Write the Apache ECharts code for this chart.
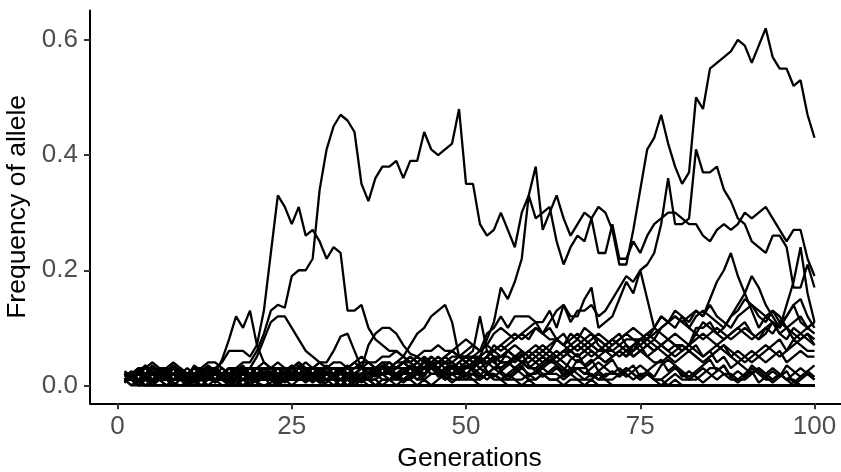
<!DOCTYPE html>
<html>
<head>
<meta charset="utf-8">
<script src="https://cdn.jsdelivr.net/npm/echarts@6/dist/echarts.min.js"></script>
<style>
  html, body { margin: 0; padding: 0; background: #fff; overflow: hidden; }
  /* the plot panel runs a little past the right edge of the window, as in the original */
  #chart { width: 849px; height: 472px; }
</style>
</head>
<body>
<div id="chart"></div>
<script>
// allele frequency in percent, one value per generation (1..100)
const alleleA = [
  1, 2, 1, 1, 2, 1, 2, 2, 1, 2,
  2, 1, 2, 3, 4, 6, 6, 6, 5, 7,
  13, 23, 33, 31, 28, 31, 26, 27, 25, 22,
  24, 23, 13, 13, 14, 10, 8, 7, 6, 6,
  5, 4, 3, 3, 2, 2, 3, 2, 1, 1,
  1, 0, 0, 0, 0, 0, 0, 0, 0, 0,
  0, 0, 0, 0, 0, 0, 0, 0, 0, 0,
  0, 0, 0, 0, 0, 0, 0, 0, 0, 0,
  0, 0, 0, 0, 0, 0, 0, 0, 0, 0,
  0, 0, 0, 0, 0, 0, 0, 0, 0, 0
]
const alleleB = [
  2, 1, 2, 3, 2, 3, 2, 1, 2, 1,
  1, 2, 2, 1, 2, 3, 3, 4, 4, 6,
  9, 13, 14, 13.5, 19, 20, 20, 22, 34, 41,
  45, 47, 46, 44, 35, 32, 36, 38, 38, 39,
  36, 39, 39, 44, 41, 40, 41, 42, 48, 35,
  35, 28, 26, 27, 30, 27, 24, 30, 33, 38,
  27, 30, 33, 29, 26, 28, 30, 29, 31, 30,
  27, 21, 21, 27, 34, 41, 43, 47, 42, 38,
  35, 37, 50, 48, 55, 56, 57, 58, 60, 59,
  56, 59, 62, 57, 55, 55, 52, 53, 47, 43
]
const alleleC = [
  1, 1, 2, 1, 0, 1, 1, 2, 1, 1,
  0, 1, 1, 2, 1, 1, 0, 1, 1, 2,
  1, 1, 2, 1, 1, 2, 3, 2, 1, 2,
  2, 3, 2, 1, 2, 2, 3, 4, 3, 3,
  4, 3, 2, 3, 4, 5, 4, 3, 4, 3,
  4, 5, 8, 11, 17, 15, 18, 22, 33, 29,
  30, 31, 25, 21, 24, 26, 25, 29, 23, 23,
  28, 22, 22, 25, 23, 26, 28, 29, 30, 30,
  29, 28, 28, 26, 25, 27, 28, 27, 28, 30,
  29, 30, 31, 29, 27, 25, 27, 27, 22, 19
]
const alleleE = [
  1, 2, 2, 3, 2, 1, 1, 2, 2, 1,
  1, 1, 0, 1, 1, 2, 1, 1, 2, 2,
  3, 2, 2, 1, 1, 1, 2, 2, 3, 2,
  2, 1, 1, 2, 2, 1, 2, 3, 2, 2,
  3, 3, 4, 3, 5, 4, 5, 6, 5, 6,
  7, 6, 9, 10, 12, 10, 12, 12, 12, 11,
  11, 13, 10, 14, 12, 12, 15, 17, 10, 11,
  12, 15, 18, 16, 20, 21, 23, 28, 36, 28,
  28, 29, 41, 37, 37, 38, 34, 32, 29, 28,
  25, 24, 23, 26, 26, 24, 17, 17, 21, 17
]
const alleleM = [
  2, 1, 1, 2, 1, 2, 3, 2, 3, 2,
  3, 2, 1, 2, 1, 0, 1, 1, 0, 1,
  1, 1, 0, 1, 1, 2, 1, 1, 2, 1,
  1, 2, 2, 1, 2, 1, 1, 0, 1, 1,
  2, 2, 1, 2, 3, 3, 4, 3, 3, 4,
  5, 4, 5, 7, 6, 7, 8, 9, 8, 10,
  9, 11, 13, 14, 11, 13, 13, 14, 12, 13,
  15, 17, 19, 18, 20, 15, 10, 9, 8, 7,
  7, 6, 7, 5, 6, 4, 5, 3, 4, 3,
  2, 3, 2, 1, 2, 1, 1, 0, 0, 0
]
const allele01 = [
  2, 2, 3, 3, 4, 3, 2, 3, 2, 2,
  1, 2, 3, 2, 2, 1, 1, 0, 1, 1,
  2, 1, 1, 2, 3, 3, 2, 1, 1, 0,
  0, 0, 0, 0, 0, 0, 0, 0, 0, 0,
  0, 0, 0, 0, 0, 0, 0, 0, 0, 0,
  0, 0, 0, 0, 0, 0, 0, 0, 0, 0,
  0, 0, 0, 0, 0, 0, 0, 0, 0, 0,
  0, 0, 0, 0, 0, 0, 0, 0, 0, 0,
  0, 0, 0, 0, 0, 0, 0, 0, 0, 0,
  0, 0, 0, 0, 0, 0, 0, 0, 0, 0
]
const allele02 = [
  1, 2, 2, 3, 2, 3, 3, 4, 3, 2,
  2, 1, 1, 2, 1, 2, 2, 3, 2, 2,
  1, 1, 2, 2, 1, 1, 2, 3, 3, 2,
  2, 1, 1, 2, 1, 1, 0, 1, 1, 2,
  1, 1, 0, 1, 0, 0, 0, 0, 0, 0,
  0, 0, 0, 0, 0, 0, 0, 0, 0, 0,
  0, 0, 0, 0, 0, 0, 0, 0, 0, 0,
  0, 0, 0, 0, 0, 0, 0, 0, 0, 0,
  0, 0, 0, 0, 0, 0, 0, 0, 0, 0,
  0, 0, 0, 0, 0, 0, 0, 0, 0, 0
]
const allele03 = [
  1, 1, 0, 1, 2, 1, 2, 2, 3, 2,
  3, 3, 4, 4, 3, 2, 2, 1, 2, 3,
  2, 2, 3, 2, 1, 2, 1, 1, 2, 2,
  3, 3, 2, 2, 3, 4, 3, 2, 3, 3,
  4, 5, 4, 3, 4, 4, 5, 4, 3, 4,
  5, 5, 6, 5, 4, 6, 7, 6, 5, 6,
  7, 6, 8, 7, 9, 8, 10, 9, 8, 7,
  8, 9, 7, 6, 8, 9, 10, 12, 11, 10,
  12, 11, 13, 12, 14, 12, 11, 10, 12, 13,
  14, 12, 11, 13, 12, 10, 11, 12, 10, 11
]
const allele04 = [
  2, 1, 1, 0, 1, 2, 1, 1, 2, 1,
  1, 0, 1, 1, 0, 0, 0, 0, 0, 0,
  0, 0, 0, 0, 0, 0, 0, 0, 0, 0,
  0, 0, 0, 0, 0, 0, 0, 0, 0, 0,
  0, 0, 0, 0, 0, 0, 0, 0, 0, 0,
  0, 0, 0, 0, 0, 0, 0, 0, 0, 0,
  0, 0, 0, 0, 0, 0, 0, 0, 0, 0,
  0, 0, 0, 0, 0, 0, 0, 0, 0, 0,
  0, 0, 0, 0, 0, 0, 0, 0, 0, 0,
  0, 0, 0, 0, 0, 0, 0, 0, 0, 0
]
const allele05 = [
  1, 2, 1, 2, 2, 1, 0, 1, 1, 2,
  2, 3, 2, 1, 2, 2, 3, 3, 2, 3,
  4, 3, 3, 2, 3, 2, 2, 3, 4, 3,
  2, 3, 3, 4, 3, 3, 2, 2, 3, 4,
  4, 5, 4, 5, 4, 3, 4, 5, 5, 5,
  6, 12, 6, 5, 4, 4, 3, 4, 5, 4,
  3, 4, 4, 3, 2, 3, 3, 4, 5, 4,
  5, 6, 5, 6, 7, 5, 4, 4, 5, 6,
  7, 6, 5, 4, 5, 6, 7, 5, 4, 5,
  6, 5, 4, 5, 6, 4, 5, 6, 5, 5
]
const allele06 = [
  1, 1, 2, 1, 1, 2, 2, 1, 1, 2,
  3, 2, 2, 3, 2, 1, 1, 2, 1, 2,
  2, 3, 2, 2, 3, 4, 3, 3, 4, 3,
  3, 3, 2, 2, 3, 7, 9, 10, 10, 9,
  7, 5.5, 5, 4, 3, 3, 2, 2, 3, 2,
  1, 1, 2, 1, 1, 0, 0, 0, 0, 0,
  0, 0, 0, 0, 0, 0, 0, 0, 0, 0,
  0, 0, 0, 0, 0, 0, 0, 0, 0, 0,
  0, 0, 0, 0, 0, 0, 0, 0, 0, 0,
  0, 0, 0, 0, 0, 0, 0, 0, 0, 0
]
const allele07 = [
  2, 1, 1, 1, 2, 2, 1, 2, 2, 3,
  2, 2, 1, 1, 2, 3, 2, 2, 3, 2,
  1, 2, 3, 3, 2, 3, 4, 3, 2, 3,
  4, 4, 3, 3, 4, 4, 3, 3, 3, 4,
  5, 7, 9, 10, 12, 13, 14, 11, 5, 4,
  3, 4, 5, 4, 5, 6, 5, 4, 3, 4,
  5, 6, 5, 4, 3, 3, 2, 3, 4, 3,
  2, 2, 3, 2, 1, 2, 1, 1, 0, 1,
  0, 0, 0, 0, 0, 0, 0, 0, 0, 0,
  0, 0, 0, 0, 0, 0, 0, 0, 0, 0
]
const allele08 = [
  1, 1, 2, 2, 1, 1, 2, 3, 2, 2,
  1, 1, 2, 2, 4.5, 8, 12, 10, 13, 7,
  4, 3, 2, 2, 3, 2, 1, 1, 2, 2,
  1, 1, 0, 1, 1, 0, 0, 0, 0, 0,
  0, 0, 0, 0, 0, 0, 0, 0, 0, 0,
  0, 0, 0, 0, 0, 0, 0, 0, 0, 0,
  0, 0, 0, 0, 0, 0, 0, 0, 0, 0,
  0, 0, 0, 0, 0, 0, 0, 0, 0, 0,
  0, 0, 0, 0, 0, 0, 0, 0, 0, 0,
  0, 0, 0, 0, 0, 0, 0, 0, 0, 0
]
const allele09 = [
  2, 2, 1, 1, 2, 2, 3, 2, 1, 1,
  2, 2, 3, 2, 2, 3, 3, 2, 3, 5,
  8, 11, 12, 12, 10, 8, 6, 5, 4, 4,
  6, 8.5, 9, 6, 3, 2, 3, 2, 2, 1,
  1, 2, 2, 3, 2, 2, 1, 2, 3, 3,
  4, 3, 2, 3, 4, 4, 5, 4, 3, 3,
  2, 2, 3, 2, 2, 1, 1, 2, 1, 1,
  0, 0, 0, 0, 0, 0, 0, 0, 0, 0,
  0, 0, 0, 0, 0, 0, 0, 0, 0, 0,
  0, 0, 0, 0, 0, 0, 0, 0, 0, 0
]
const allele10 = [
  1, 0, 1, 1, 2, 1, 1, 2, 1, 1,
  2, 2, 1, 2, 2, 3, 2, 3, 3, 2,
  3, 3, 4, 3, 3, 4, 3, 2, 2, 3,
  3, 2, 3, 4, 5, 4, 4, 5, 5, 6,
  5, 4, 5, 6, 6, 7, 6, 6, 7, 8,
  7, 6, 7, 9, 10, 9, 8, 9, 10, 11,
  9, 8, 8, 9, 7, 6, 7, 8, 9, 8,
  7, 8, 9, 10, 9, 8, 10, 12, 11, 13,
  12, 10, 9, 11, 10, 9, 8, 9, 10, 11,
  9, 8, 10, 9, 11, 10, 9, 8, 9, 8
]
const allele11 = [
  2, 2, 3, 2, 2, 1, 1, 1, 2, 2,
  1, 1, 1, 2, 3, 2, 1, 2, 2, 1,
  1, 2, 2, 1, 2, 3, 3, 2, 2, 1,
  2, 2, 1, 1, 2, 1, 2, 3, 2, 2,
  3, 3, 2, 2, 3, 3, 4, 3, 3, 4,
  5, 4, 5, 4, 3, 4, 5, 5, 6, 5,
  4, 5, 6, 5, 6, 7, 6, 5, 6, 7,
  8, 7, 6, 7, 8, 9, 8, 10, 11, 12,
  11, 12, 13, 12, 15, 18, 20, 23, 19, 16,
  13, 10, 12, 11, 9, 8, 10, 9, 8, 7
]
const allele12 = [
  1, 1, 2, 2, 1, 2, 1, 0, 1, 1,
  2, 1, 1, 1, 2, 2, 1, 1, 1, 2,
  2, 1, 1, 2, 2, 1, 1, 2, 3, 2,
  2, 3, 3, 2, 2, 3, 2, 2, 3, 2,
  2, 3, 4, 3, 3, 2, 3, 4, 3, 3,
  4, 5, 4, 3, 3, 4, 5, 4, 4, 5,
  6, 5, 4, 5, 6, 5, 6, 7, 6, 7,
  8, 7, 6, 5, 6, 7, 6, 7, 6, 7,
  6, 7, 10, 10, 11, 9, 10, 12, 14, 16,
  19, 17, 14, 12, 10, 12, 14, 11, 10, 11
]
const allele13 = [
  1, 2, 1, 1, 0, 1, 1, 2, 1, 1,
  1, 2, 1, 1, 1, 0, 1, 1, 2, 1,
  1, 1, 0, 1, 1, 1, 2, 1, 1, 2,
  2, 1, 1, 2, 3, 2, 2, 3, 2, 3,
  4, 3, 2, 3, 3, 4, 3, 3, 2, 3,
  3, 4, 4, 5, 4, 4, 3, 4, 3, 3,
  4, 5, 5, 6, 5, 4, 5, 6, 5, 4,
  5, 6, 5, 7, 8, 7, 6, 7, 8, 9,
  8, 7, 9, 8, 9, 10, 9, 8, 9, 10,
  9, 8, 9, 11, 10, 14, 18, 24, 16, 11
]
const allele14 = [
  2.5, 1.5, 0.5, 2, 3.5, 2.5, 1.5, 3, 1.5, 0.5,
  1.5, 2.5, 1.5, 0.5, 1.5, 3, 2.5, 3.5, 1.5, 0.5,
  1.5, 0, 0.5, 1.5, 2.5, 1.5, 0.5, 1.5, 2.5, 3.5,
  1.5, 2.5, 3.5, 1.5, 0.5, 1.5, 2.5, 3.5, 2.5, 1.5,
  2.5, 3.5, 2.5, 4.5, 3.5, 1.5, 2.5, 3.5, 2.5, 1.5,
  3.5, 4.5, 2.5, 1.5, 2.5, 3.5, 4.5, 5.5, 3.5, 2.5,
  1.5, 2.5, 3.5, 1.5, 2.5, 4.5, 3.5, 1.5, 2.5, 3.5,
  4.5, 2.5, 1.5, 2.5, 3.5, 2.5, 1.5, 3.5, 4.5, 3.5,
  2.5, 1.5, 2.5, 3.5, 4.5, 2.5, 3.5, 1.5, 2.5, 1.5,
  3.5, 2.5, 1.5, 0.5, 1.5, 3.5, 2.5, 1.5, 2.5, 3.5
]
const allele15 = [
  1, 1, 1, 2, 1, 1, 2, 2, 1, 0,
  1, 1, 2, 2, 1, 2, 2, 1, 2, 2,
  3, 2, 1, 1, 2, 2, 1, 2, 2, 3,
  3, 2, 2, 1, 1, 2, 3, 3, 2, 2,
  3, 3, 2, 3, 4, 3, 2, 2, 3, 2,
  2, 1, 2, 3, 2, 1, 1, 0, 1, 0,
  0, 0, 0, 0, 0, 0, 0, 0, 0, 0,
  0, 0, 0, 0, 0, 0, 0, 0, 0, 0,
  0, 0, 0, 0, 0, 0, 0, 0, 0, 0,
  0, 0, 0, 0, 0, 0, 0, 0, 0, 0
]
const allele16 = [
  1, 2, 2, 1, 1, 1, 1, 2, 2, 1,
  1, 2, 3, 3, 2, 2, 3, 2, 2, 1,
  1, 2, 2, 3, 2, 2, 3, 3, 3, 2,
  1, 1, 2, 3, 3, 2, 3, 4, 4, 3,
  3, 2, 3, 4, 4, 3, 4, 4, 5, 5,
  4, 4, 5, 6, 5, 5, 4, 5, 6, 7,
  6, 7, 8, 7, 6, 7, 8, 9, 7, 6,
  5, 6, 7, 5, 6, 7, 8, 7, 6, 5,
  6, 7, 6, 5, 6, 7, 6, 5, 6, 5,
  4, 5, 6, 7, 8, 6, 7, 8, 9, 7
]
const allele17 = [
  2, 1, 2, 2, 3, 2, 1, 1, 1, 2,
  2, 3, 2, 1, 1, 2, 1, 1, 2, 2,
  1, 1, 2, 1, 0, 1, 1, 2, 1, 1,
  0, 1, 1, 0, 1, 1, 0, 0, 0, 0,
  0, 0, 0, 0, 0, 0, 0, 0, 0, 0,
  0, 0, 0, 0, 0, 0, 0, 0, 0, 0,
  0, 0, 0, 0, 0, 0, 0, 0, 0, 0,
  0, 0, 0, 0, 0, 0, 0, 0, 0, 0,
  0, 0, 0, 0, 0, 0, 0, 0, 0, 0,
  0, 0, 0, 0, 0, 0, 0, 0, 0, 0
]
const allele18 = [
  1, 1, 0, 1, 1, 2, 2, 1, 1, 1,
  2, 2, 1, 2, 2, 1, 1, 2, 2, 3,
  3, 2, 3, 2, 2, 1, 2, 2, 3, 3,
  2, 3, 3, 2, 1, 2, 2, 3, 4, 3,
  4, 4, 5, 4, 3, 3, 2, 3, 4, 5,
  5, 4, 5, 6, 7, 6, 5, 6, 5, 4,
  5, 4, 5, 6, 7, 8, 7, 6, 5, 6,
  7, 8, 9, 8, 7, 8, 9, 10, 11, 12,
  11, 10, 12, 13, 12, 11, 10, 12, 13, 15,
  14, 13, 12, 13, 11, 12, 14, 15, 12, 10
]
const allele19 = [
  0.5, 1.5, 2.5, 3.5, 2.5, 1.5, 2.5, 3.5, 2.5, 1.5,
  3.5, 2.5, 1.5, 0.5, 1.5, 0.5, 1.5, 2.5, 1.5, 0.5,
  1.5, 2.5, 1.5, 0.5, 1.5, 3.5, 2.5, 1.5, 0.5, 0.5,
  1.5, 2.5, 1.5, 0.5, 1.5, 2.5, 1.5, 3.5, 2.5, 1.5,
  0.5, 1.5, 2.5, 1.5, 3.5, 2.5, 1.5, 0.5, 1.5, 3.5,
  2.5, 1.5, 3.5, 4.5, 2.5, 1.5, 2.5, 3.5, 1.5, 2.5,
  3.5, 4.5, 3.5, 2.5, 4.5, 5.5, 3.5, 4.5, 2.5, 1.5,
  2.5, 1.5, 2.5, 3.5, 1.5, 2.5, 3.5, 4.5, 2.5, 3.5,
  1.5, 2.5, 1.5, 0.5, 1.5, 2.5, 3.5, 1.5, 0.5, 1.5,
  2.5, 0.5, 1.5, 2.5, 1.5, 2.5, 0.5, 1.5, 2.5, 1.5
]
const allele20 = [
  2, 2, 1, 1, 1, 2, 1, 1, 2, 2,
  1, 2, 2, 2, 1, 2, 3, 2, 1, 2,
  2, 1, 2, 2, 1, 2, 1, 1, 1, 2,
  2, 3, 2, 2, 3, 2, 3, 3, 2, 2,
  2, 3, 3, 2, 3, 4, 4, 3, 4, 5,
  4, 3, 4, 5, 5, 6, 5, 4, 5, 6,
  5, 4, 5, 6, 6, 5, 6, 7, 6, 6,
  6, 7, 8, 8, 8, 8, 7, 6, 5, 4,
  5, 6, 5, 4, 5, 6, 7, 6, 5, 4,
  5, 6, 7, 6, 5, 6, 8, 7, 6, 6
]
const allele21 = [
  1, 1, 2, 1, 1, 1, 2, 2, 2, 1,
  1, 1, 2, 2, 2, 3, 2, 2, 1, 1,
  2, 2, 1, 1, 2, 2, 2, 1, 2, 2,
  1, 1, 2, 2, 1, 1, 2, 2, 1, 2,
  2, 3, 2, 2, 3, 2, 1, 2, 2, 1,
  2, 3, 2, 2, 1, 2, 3, 2, 1, 1,
  2, 1, 1, 0, 1, 1, 0, 1, 0, 0,
  0, 0, 0, 0, 0, 0, 0, 0, 0, 0,
  0, 0, 0, 0, 0, 0, 0, 0, 0, 0,
  0, 0, 0, 0, 0, 0, 0, 0, 0, 0
]
const allele22 = [
  1, 1, 1, 2, 1, 2, 2, 3, 2, 2,
  1, 1, 2, 1, 1, 1, 2, 2, 3, 3,
  2, 2, 3, 2, 2, 3, 3, 2, 1, 2,
  2, 1, 1, 2, 2, 3, 3, 2, 3, 3,
  4, 3, 3, 4, 5, 4, 5, 6, 5, 4,
  5, 6, 7, 6, 7, 8, 9, 8, 9, 10,
  9, 10, 8, 7, 8, 9, 8, 7, 8, 7,
  6, 5, 6, 7, 6, 5, 6, 7, 8, 7,
  6, 7, 8, 9, 8, 7, 8, 9, 10, 9,
  8, 9, 10, 11, 9, 10, 8, 9, 10, 9
]
const allele23 = [
  1, 0, 0, 0, 0, 0, 0, 0, 0, 0,
  0, 0, 0, 0, 0, 0, 0, 0, 0, 0,
  0, 0, 0, 0, 0, 0, 0, 0, 0, 0,
  0, 0, 0, 0, 0, 0, 0, 0, 0, 0,
  0, 0, 0, 0, 0, 0, 0, 0, 0, 0,
  0, 0, 0, 0, 0, 0, 0, 0, 0, 0,
  0, 0, 0, 0, 0, 0, 0, 0, 0, 0,
  0, 0, 0, 0, 0, 0, 0, 0, 0, 0,
  0, 0, 0, 0, 0, 0, 0, 0, 0, 0,
  0, 0, 0, 0, 0, 0, 0, 0, 0, 0
]
const allele24 = [
  1, 1, 0, 0, 0, 0, 0, 0, 0, 0,
  0, 0, 0, 0, 0, 0, 0, 0, 0, 0,
  0, 0, 0, 0, 0, 0, 0, 0, 0, 0,
  0, 0, 0, 0, 0, 0, 0, 0, 0, 0,
  0, 0, 0, 0, 0, 0, 0, 0, 0, 0,
  0, 0, 0, 0, 0, 0, 0, 0, 0, 0,
  0, 0, 0, 0, 0, 0, 0, 0, 0, 0,
  0, 0, 0, 0, 0, 0, 0, 0, 0, 0,
  0, 0, 0, 0, 0, 0, 0, 0, 0, 0,
  0, 0, 0, 0, 0, 0, 0, 0, 0, 0
]
const allele25 = [
  2, 1, 1, 0, 0, 0, 0, 0, 0, 0,
  0, 0, 0, 0, 0, 0, 0, 0, 0, 0,
  0, 0, 0, 0, 0, 0, 0, 0, 0, 0,
  0, 0, 0, 0, 0, 0, 0, 0, 0, 0,
  0, 0, 0, 0, 0, 0, 0, 0, 0, 0,
  0, 0, 0, 0, 0, 0, 0, 0, 0, 0,
  0, 0, 0, 0, 0, 0, 0, 0, 0, 0,
  0, 0, 0, 0, 0, 0, 0, 0, 0, 0,
  0, 0, 0, 0, 0, 0, 0, 0, 0, 0,
  0, 0, 0, 0, 0, 0, 0, 0, 0, 0
]
const allele26 = [
  1, 2, 1, 1, 2, 1, 0, 0, 0, 0,
  0, 0, 0, 0, 0, 0, 0, 0, 0, 0,
  0, 0, 0, 0, 0, 0, 0, 0, 0, 0,
  0, 0, 0, 0, 0, 0, 0, 0, 0, 0,
  0, 0, 0, 0, 0, 0, 0, 0, 0, 0,
  0, 0, 0, 0, 0, 0, 0, 0, 0, 0,
  0, 0, 0, 0, 0, 0, 0, 0, 0, 0,
  0, 0, 0, 0, 0, 0, 0, 0, 0, 0,
  0, 0, 0, 0, 0, 0, 0, 0, 0, 0,
  0, 0, 0, 0, 0, 0, 0, 0, 0, 0
]
const allele27 = [
  0.5, 1.5, 2.5, 1.5, 0.5, 1, 2.5, 3.5, 2.5, 1.5,
  0.5, 1.5, 2.5, 3, 2, 1.5, 0.5, 0, 0.5, 1.5,
  2.5, 1.5, 0.5, 1, 2, 3.5, 2.5, 1.5, 0.5, 1,
  2, 1, 1, 0, 1, 1, 2, 1, 1, 2,
  1, 1, 2, 1, 0, 1, 2, 1, 1, 2,
  3, 2, 1, 2, 1, 1, 2, 3, 2, 1,
  2, 1, 1, 2, 3, 2, 1, 1, 2, 1,
  1, 2, 3, 2, 1, 2, 1, 0, 1, 2,
  1, 1, 2, 3, 2, 1, 2, 1, 1, 2,
  3, 2, 1, 1, 2, 1, 0, 1, 2, 1
]
const allele28 = [
  1.5, 2.5, 0.5, 1.5, 3, 2.5, 1.5, 0.5, 0, 0.5,
  1.5, 2.5, 3.5, 2.5, 1.5, 0.5, 1.5, 2.5, 1.5, 0.5,
  0, 0.5, 1.5, 2.5, 3.5, 2, 1.5, 0.5, 1.5, 2.5,
  1, 0, 1, 2, 2, 1, 1, 2, 1, 0,
  1, 2, 1, 1, 2, 2, 1, 2, 3, 2,
  2, 1, 2, 2, 1, 2, 1, 1, 2, 2,
  3, 2, 2, 1, 2, 3, 2, 2, 1, 2,
  2, 3, 2, 1, 2, 2, 1, 1, 2, 3,
  2, 1, 1, 2, 3, 3, 2, 2, 1, 1,
  2, 3, 2, 3, 2, 1, 2, 3, 2, 1
]

const xTicks = [0, 25, 50, 75, 100]
const yTicks = [0, 0.2, 0.4, 0.6]

const alleles = [
  allele23, allele24, allele25, allele26, allele27, allele28,
  allele01, allele02, allele03, allele04, allele05, allele06, allele07, allele08,
  allele09, allele10, allele11, allele12, allele13, allele14, allele15, allele16,
  allele17, allele18, allele19, allele20, allele21, allele22,
  alleleM, alleleE, alleleC, alleleA, alleleB
]

const font = 'Liberation Sans, Arial, sans-serif'
const chart = echarts.init(document.getElementById('chart'))

chart.setOption({
  animation: false,
  grid: { left: 90, right: 0, top: 10.5, bottom: 68.7, containLabel: false, outerBoundsMode: 'none' },
  xAxis: {
    type: 'value',
    min: -3.95,
    max: 104.95,
    name: 'Generations',
    nameLocation: 'middle',
    nameGap: 40,
    nameTextStyle: { color: '#000', fontSize: 26.5, fontFamily: font },
    axisLine: { onZero: false, lineStyle: { color: '#000', width: 2 } },
    axisTick: { customValues: xTicks, length: 6, lineStyle: { color: '#333', width: 2 } },
    axisLabel: { customValues: xTicks, margin: 11, color: '#4d4d4d', fontSize: 26, fontFamily: font },
    splitLine: { show: false }
  },
  yAxis: {
    type: 'value',
    min: -0.031,
    max: 0.651,
    name: 'Frequency of allele',
    nameLocation: 'middle',
    nameGap: 58,
    nameTextStyle: { color: '#000', fontSize: 26.5, fontFamily: font },
    axisLine: { show: true, onZero: false, lineStyle: { color: '#000', width: 2 } },
    axisTick: { show: true, customValues: yTicks, length: 6, lineStyle: { color: '#333', width: 2 } },
    axisLabel: {
      customValues: yTicks,
      margin: 12,
      color: '#4d4d4d',
      fontSize: 26,
      fontFamily: font,
      formatter: (v) => v.toFixed(1)
    },
    splitLine: { show: false }
  },
  series: alleles.map((vals) => ({
    type: 'line',
    data: vals.map((v, i) => [i + 1, v / 100]),
    showSymbol: false,
    symbol: 'none',
    silent: true,
    lineStyle: { color: '#000', width: 2.3 }
  }))
})
</script>
</body>
</html>
